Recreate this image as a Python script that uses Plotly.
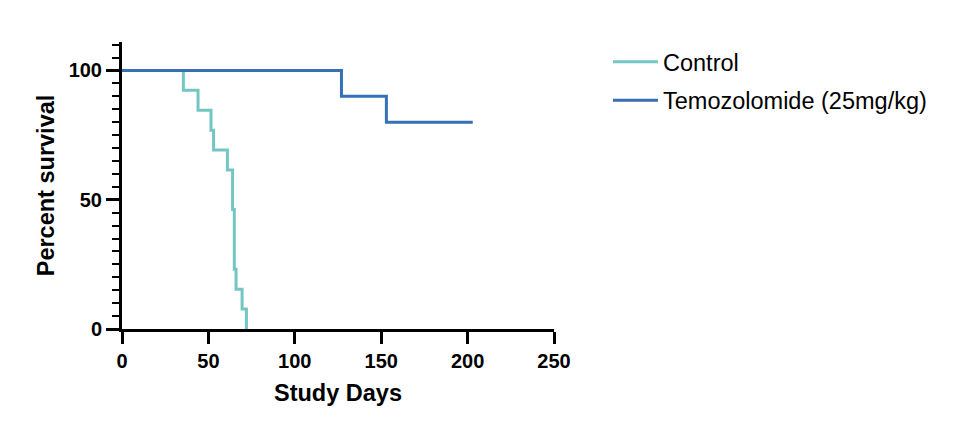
import plotly.graph_objects as go

# Kaplan-Meier step data (days, percent survival)
control_days = [0, 35.5, 44, 51.5, 53, 61, 64, 65, 66, 69.5, 72]
control_surv = [100, 92.3, 84.6, 76.9, 69.2, 61.5, 46.2, 23.1, 15.4, 7.7, 0]

tmz_days = [0, 127, 153, 203]
tmz_surv = [100, 90, 80, 80]

series_names = ["Control", "Temozolomide (25mg/kg)"]
series_colors = ["#74C6C4", "#3471B7"]

x_ticks = [0, 50, 100, 150, 200, 250]
y_ticks = [0, 50, 100]

FONT = "Liberation Sans, Arial, sans-serif"

fig = go.Figure()
for name, xs, ys, col, grp in [
    (series_names[0], control_days, control_surv, series_colors[0], "g1"),
    (series_names[1], tmz_days, tmz_surv, series_colors[1], "g2"),
]:
    fig.add_trace(go.Scatter(
        x=xs, y=ys, mode="lines", name=name, legendgroup=grp,
        line=dict(color=col, width=3, shape="hv"),
        cliponaxis=False,
    ))

fig.update_layout(
    width=956, height=424,
    margin=dict(l=114, r=410, t=34, b=103, autoexpand=False),
    paper_bgcolor="white", plot_bgcolor="white",
    font=dict(family=FONT, color="black"),
    showlegend=True,
    legend=dict(
        x=1.125, y=1.007, xanchor="left", yanchor="top",
        font=dict(family=FONT, size=23.5, color="black"),
        itemwidth=45,
        tracegroupgap=5, bgcolor="rgba(0,0,0,0)",
    ),
)

fig.update_xaxes(
    range=[0, 250], tickvals=x_ticks, ticktext=[str(v) for v in x_ticks],
    showgrid=False, zeroline=False, automargin=False,
    showline=True, linecolor="black", linewidth=3,
    ticks="outside", ticklen=12, tickwidth=3, tickcolor="black",
    tickfont=dict(family=FONT, size=20, weight="bold"),
    title=dict(text="Study Days", font=dict(family=FONT, size=23.5, weight="bold"), standoff=14),
)
fig.update_yaxes(
    range=[0, 111], tickvals=y_ticks, ticktext=[str(v) for v in y_ticks],
    showgrid=False, zeroline=False, automargin=False,
    showline=True, linecolor="black", linewidth=3,
    ticks="outside", ticklen=13, tickwidth=3, tickcolor="black",
    minor=dict(dtick=5, tick0=0, ticks="outside", ticklen=7, tickwidth=2, tickcolor="black", showgrid=False),
    tickfont=dict(family=FONT, size=20, weight="bold"),
    title=dict(text="Percent survival", font=dict(family=FONT, size=23.5, weight="bold"), standoff=8),
)

fig.write_html("out.html")
